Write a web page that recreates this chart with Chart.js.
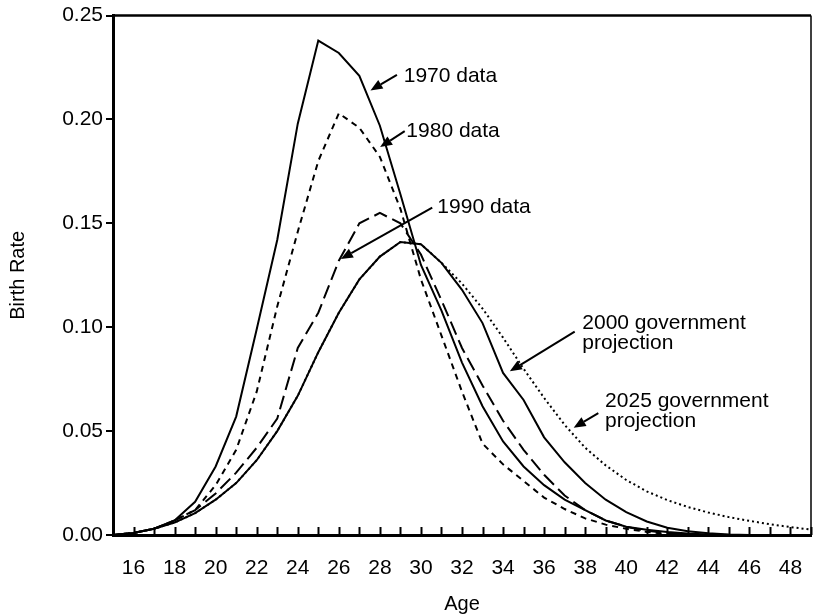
<!DOCTYPE html>
<html>
<head>
<meta charset="utf-8">
<script src="https://cdn.jsdelivr.net/npm/chart.js@4/dist/chart.umd.min.js"></script>
<style>
  html, body { margin: 0; padding: 0; background: #fff; }
</style>
</head>
<body>
<canvas id="chart" width="824" height="616"></canvas>
<script>
// ages on the x axis
var ages = [15, 16, 17, 18, 19, 20, 21, 22, 23, 24, 25, 26, 27, 28, 29, 30, 31, 32,
            33, 34, 35, 36, 37, 38, 39, 40, 41, 42, 43, 44, 45, 46, 47, 48, 49];

// birth rate by age
var rate1970 = [0, 0.001, 0.003, 0.007, 0.016, 0.033, 0.057, 0.099, 0.142, 0.198, 0.238, 0.232,
                0.221, 0.197, 0.164, 0.130, 0.108, 0.083, 0.062, 0.045, 0.033, 0.024, 0.017,
                0.012, 0.007, 0.004, 0.0025, 0.0014, 0.0007, 0.0003, 0, null, null, null, null];
var rate1980 = [0, 0.001, 0.003, 0.007, 0.012, 0.024, 0.041, 0.069, 0.110, 0.146, 0.180, 0.203,
                0.196, 0.182, 0.157, 0.123, 0.096, 0.069, 0.044, 0.034, 0.026, 0.018, 0.0125,
                0.008, 0.005, 0.003, 0.0015, 0.0005, 0, null, null, null, null, null, null];
var rate1990 = [0, 0.001, 0.003, 0.007, 0.012, 0.020, 0.030, 0.042, 0.056, 0.090, 0.107, 0.132,
                0.150, 0.155, 0.150, 0.135, 0.113, 0.090, 0.072, 0.055, 0.041, 0.029, 0.019,
                0.012, 0.007, 0.004, 0.002, 0.001, 0, null, null, null, null, null, null];
var rate2000 = [0, 0.001, 0.003, 0.006, 0.0105, 0.017, 0.025, 0.036, 0.050, 0.067, 0.088, 0.107,
                0.123, 0.134, 0.141, 0.140, 0.131, 0.118, 0.102, 0.078, 0.065, 0.047, 0.035,
                0.025, 0.017, 0.011, 0.0065, 0.0035, 0.0018, 0.0008, 0.0002, 0, null, null, null];
var rate2025 = [0, 0.001, 0.003, 0.006, 0.0105, 0.017, 0.025, 0.036, 0.050, 0.067, 0.088, 0.107,
                0.123, 0.134, 0.141, 0.140, 0.131, 0.121, 0.109, 0.095, 0.080, 0.066, 0.053,
                0.042, 0.0335, 0.0265, 0.021, 0.0168, 0.0135, 0.0108, 0.0086, 0.0068, 0.0052, 0.0038, 0.0026];

var yTicks = [0, 0.05, 0.10, 0.15, 0.20, 0.25];

// callouts, placed in data units (age, rate); text y is the baseline
var notes = [
    { text: ['1970 data'], age: 29.16, rate: 0.2181, tail: [28.83, 0.2215], tip: [27.54, 0.2140] },
    { text: ['1980 data'], age: 29.29, rate: 0.1918, tail: [29.21, 0.1944], tip: [28.01, 0.1867] },
    { text: ['1990 data'], age: 30.80, rate: 0.1549, tail: [30.55, 0.1576], tip: [26.10, 0.1328] },
    { text: ['2000 government', 'projection'], age: 37.86, rate: 0.0990, tail: [37.49, 0.0979], tip: [34.33, 0.0788] },
    { text: ['2025 government', 'projection'], age: 38.97, rate: 0.0616, tail: [38.64, 0.0587], tip: [37.44, 0.0516] }
];

var FONT = '"Liberation Sans", Arial, Helvetica, sans-serif';

function toPoints(values) {
    var pts = [];
    for (var i = 0; i < ages.length; i++) {
        pts.push({ x: ages[i], y: values[i] });
    }
    return pts;
}

function line(label, values, dash, order) {
    return {
        label: label,
        data: toPoints(values),
        borderColor: '#000',
        borderWidth: 2,
        borderDash: dash,
        pointRadius: 0,
        fill: false,
        tension: 0,
        spanGaps: false,
        order: order
    };
}

// frame on top/right, inward x ticks, and the arrow callouts
var decorations = {
    id: 'decorations',
    afterDatasetsDraw: function(chart) {
        var ctx = chart.ctx;
        var area = chart.chartArea;
        var x = chart.scales.x, y = chart.scales.y;
        ctx.save();
        ctx.strokeStyle = '#000';
        ctx.lineWidth = 2.5;
        ctx.beginPath();
        ctx.moveTo(area.left - 1, area.top);
        ctx.lineTo(area.right, area.top);
        ctx.stroke();
        ctx.lineWidth = 1.5;
        ctx.beginPath();
        ctx.moveTo(area.right, area.top);
        ctx.lineTo(area.right, area.bottom);
        ctx.stroke();

        ctx.lineWidth = 2;
        x.ticks.forEach(function(t) {
            var px = Math.round(x.getPixelForValue(t.value)) + 0.5;
            ctx.beginPath();
            ctx.moveTo(px, area.bottom);
            ctx.lineTo(px, area.bottom - 8);
            ctx.stroke();
        });

        ctx.fillStyle = '#000';
        ctx.font = '21px ' + FONT;
        ctx.textAlign = 'left';
        ctx.textBaseline = 'alphabetic';
        notes.forEach(function(n) {
            var tx = x.getPixelForValue(n.age), ty = y.getPixelForValue(n.rate);
            n.text.forEach(function(s, i) { ctx.fillText(s, tx, ty + i * 20); });

            var x0 = x.getPixelForValue(n.tail[0]), y0 = y.getPixelForValue(n.tail[1]);
            var x1 = x.getPixelForValue(n.tip[0]), y1 = y.getPixelForValue(n.tip[1]);
            var ang = Math.atan2(y1 - y0, x1 - x0);
            var head = 12, half = 5;
            var bx = x1 - head * Math.cos(ang), by = y1 - head * Math.sin(ang);
            ctx.lineWidth = 2;
            ctx.beginPath();
            ctx.moveTo(x0, y0);
            ctx.lineTo(bx, by);
            ctx.stroke();
            ctx.beginPath();
            ctx.moveTo(x1, y1);
            ctx.lineTo(bx + half * Math.sin(ang), by - half * Math.cos(ang));
            ctx.lineTo(bx - half * Math.sin(ang), by + half * Math.cos(ang));
            ctx.closePath();
            ctx.fill();
        });
        ctx.restore();
    }
};

new Chart(document.getElementById('chart'), {
    type: 'line',
    data: {
        datasets: [
            line('1970 data', rate1970, [], 1),
            line('1980 data', rate1980, [6, 5], 2),
            line('1990 data', rate1990, [14, 6], 3),
            line('2000 government projection', rate2000, [], 0),
            line('2025 government projection', rate2025, [2, 3], 5)
        ]
    },
    options: {
        responsive: false,
        animation: false,
        layout: { padding: { left: 6, top: 11, right: 2, bottom: 0 } },
        plugins: { legend: { display: false }, tooltip: { enabled: false } },
        scales: {
            x: {
                type: 'linear',
                min: 15,
                max: 49,
                afterFit: function(s) { s.height = 81; },
                grid: { display: false },
                border: { display: true, color: '#000', width: 3 },
                ticks: {
                    stepSize: 1,
                    padding: 13,
                    color: '#000',
                    font: { family: FONT, size: 21 },
                    maxRotation: 0,
                    autoSkip: false,
                    callback: function(v) { return v % 2 === 0 ? String(v) : ''; }
                },
                title: {
                    display: true,
                    text: 'Age',
                    color: '#000',
                    font: { family: FONT, size: 20 },
                    padding: 0
                }
            },
            y: {
                type: 'linear',
                min: 0,
                max: 0.25,
                afterFit: function(s) { s.width = 107; },
                afterBuildTicks: function(s) { s.ticks = yTicks.map(function(v) { return { value: v }; }); },
                grid: { drawOnChartArea: false, drawTicks: true, tickLength: 7, color: '#000', lineWidth: 2 },
                border: { display: true, color: '#000', width: 3 },
                ticks: {
                    padding: 3,
                    color: '#000',
                    font: { family: FONT, size: 21 },
                    callback: function(v) { return v.toFixed(2); }
                },
                title: {
                    display: true,
                    text: 'Birth Rate',
                    color: '#000',
                    font: { family: FONT, size: 20 },
                    padding: 0
                }
            }
        }
    },
    plugins: [decorations]
});
</script>
</body>
</html>
